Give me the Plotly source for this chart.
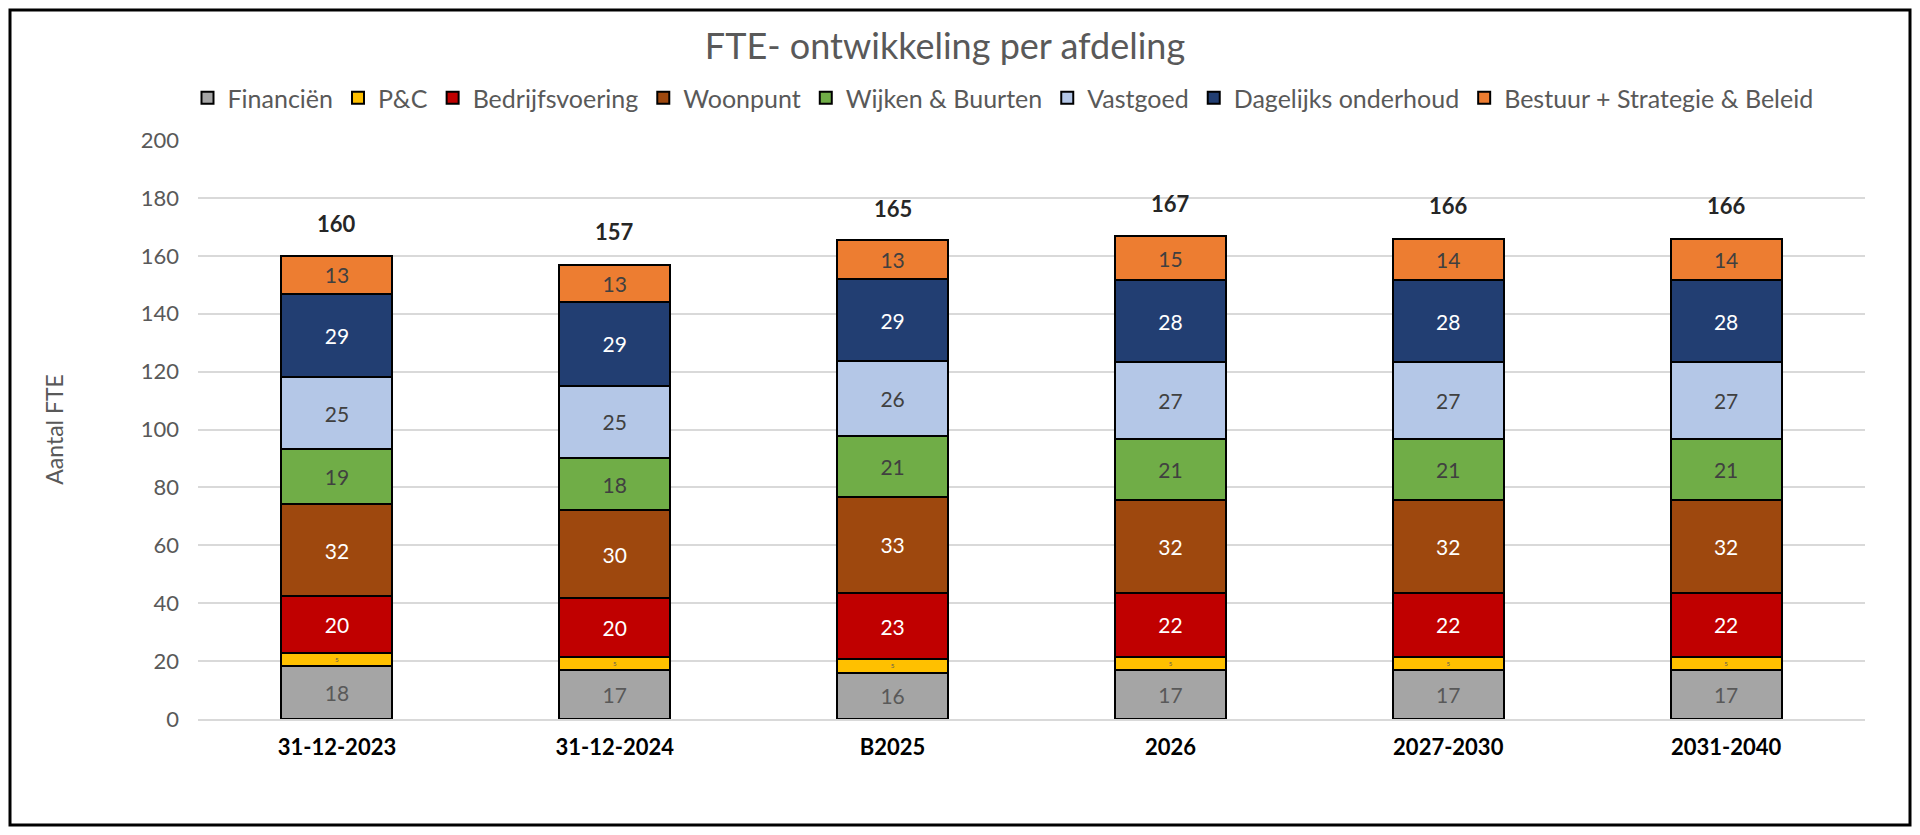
import plotly.graph_objects as go


# categorieen en waarden (FTE per afdeling)
categories = ['31-12-2023', '31-12-2024', 'B2025', '2026', '2027-2030', '2031-2040']

financien = [18.2, 16.9, 16.0, 16.9, 16.9, 16.9]
pc = [4.7, 4.6, 4.7, 4.6, 4.6, 4.6]
bedrijfsvoering = [19.6, 20.2, 22.8, 22.0, 22.0, 22.0]
woonpunt = [31.6, 30.4, 33.3, 32.0, 32.0, 32.0]
wijken = [19.2, 18.1, 21.1, 21.1, 21.1, 21.1]
vastgoed = [24.7, 25.0, 25.6, 26.6, 26.6, 26.6]
dagelijks = [28.9, 28.8, 28.6, 28.3, 28.3, 28.3]
bestuur = [13.1, 12.9, 13.2, 15.3, 14.3, 14.3]
totals = [160, 157, 165, 167, 166, 166]

series = [
    ('Financiën', financien, '#A5A5A5', '#595959'),
    ('P&C', pc, '#FFC000', '#595959'),
    ('Bedrijfsvoering', bedrijfsvoering, '#C00000', 'white'),
    ('Woonpunt', woonpunt, '#9E480E', 'white'),
    ('Wijken & Buurten', wijken, '#70AD47', '#404040'),
    ('Vastgoed', vastgoed, '#B4C7E7', '#404040'),
    ('Dagelijks onderhoud', dagelijks, '#223E72', 'white'),
    ('Bestuur + Strategie & Beleid', bestuur, '#ED7D31', '#404040'),
]

font = 'Lato'

fig = go.Figure()
for name, vals, color, txtcolor in series:
    fig.add_trace(go.Bar(
        x=categories, y=vals, name=name,
        marker=dict(color=color, line=dict(color='black', width=2)),
        text=[f'{v:.0f}' for v in vals],
        textposition='inside', insidetextanchor='middle', textangle=0,
        textfont=dict(family=font, size=21, color=txtcolor),
        hoverinfo='skip',
    ))

# totalen boven de staven (x als index, anders wordt '2026' als getal gelezen)
for i, tot in enumerate(totals):
    fig.add_annotation(x=i, y=tot, text=f'<b>{tot}</b>', showarrow=False,
                       yanchor='bottom', yshift=17,
                       font=dict(family=font, size=22, color='#262626'))

# pagina heeft 8px marge, figuur dus iets kleiner
W, H = 1904, 819
ml, mr, mt, mb = 190, 47, 132, 108
pw, ph = W - ml - mr, H - mt - mb
fig.add_shape(type='rect', xref='paper', yref='paper',
              x0=-(ml - 2) / pw, x1=1 + (mr - 2) / pw,
              y0=-(mb - 2) / ph, y1=1 + (mt - 2) / ph,
              line=dict(color='black', width=3))

fig.update_layout(
    width=W, height=H,
    barmode='stack', bargap=0.6,
    plot_bgcolor='white', paper_bgcolor='white',
    margin=dict(l=ml, r=mr, t=mt, b=mb),
    title=dict(text='FTE- ontwikkeling per afdeling', x=937 / W, xanchor='center',
               y=1 - 38 / H, yanchor='middle',
               font=dict(family=font, size=36, color='#595959')),
    legend=dict(orientation='h', x=(995 - ml) / pw, xanchor='center', y=1 + 42 / ph,
                yanchor='middle',
                font=dict(family=font, size=25, color='#595959'),
                traceorder='normal', itemwidth=30),
    font=dict(family=font),
)
fig.update_yaxes(range=[0, 200], dtick=20, showgrid=True, gridcolor='#D9D9D9', gridwidth=2,
                 zeroline=False, showline=False, ticklabelstandoff=18,
                 tickfont=dict(family=font, size=22, color='#595959'),
                 title=dict(text='Aantal FTE', font=dict(family=font, size=23, color='#595959'),
                            standoff=70))
fig.update_xaxes(type='category', showline=True, linecolor='#D9D9D9', linewidth=2,
                 ticklabelstandoff=8,
                 tickfont=dict(family=font, size=22, color='black', weight='bold'))

fig.write_html('out.html')
